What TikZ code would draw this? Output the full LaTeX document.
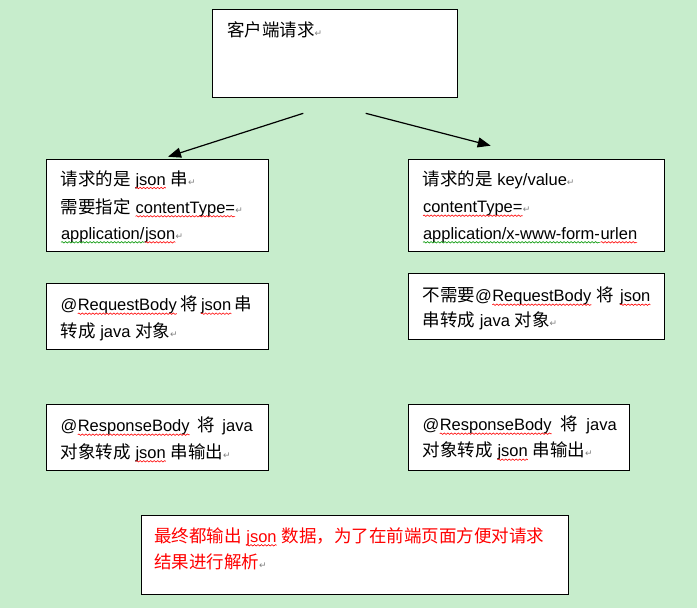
\documentclass[tikz,border=0pt]{standalone}
\usepackage{fontspec}
\setmainfont{Liberation Sans}
\newfontfamily\zhfont{Noto Sans CJK SC}
\newfontfamily\djfont{DejaVu Sans}
\usetikzlibrary{arrows.meta,decorations.pathmorphing}
\definecolor{bg}{RGB}{199,237,204}
\definecolor{wred}{RGB}{255,0,0}
\definecolor{wgreen}{RGB}{0,150,0}
\definecolor{markgray}{RGB}{128,128,128}
\newcommand\zh[1]{{\fontsize{17.5}{21}\selectfont\zhfont #1}}
\newcommand\parmark{{\djfont\fontsize{9}{9}\selectfont\textcolor{markgray}{↵}}}
\newcommand\sq[2]{\tikz[baseline=(w.base)]{\node[inner sep=0pt,outer sep=0pt,anchor=base west](w) at (0,0){#2};\draw[#1,line width=0.6pt,decorate,decoration={snake,amplitude=0.7pt,segment length=3.5pt}] ([yshift=-3pt]w.base west) -- ([yshift=-3pt]w.base east);}}
\begin{document}
\begin{tikzpicture}[x=1pt,y=-1pt,
  box/.style={draw=black,line width=1pt,fill=white,anchor=north west,inner sep=0pt},
  txt/.style={anchor=base west,inner sep=0pt,outer sep=0pt,font=\fontsize{16.5}{21}\selectfont},
  arr/.style={line width=1.2pt,-{Triangle[length=13pt,width=10pt]}}]
\fill[bg] (0,0) rectangle (697,608);
\useasboundingbox (0,0) rectangle (697,608);
% boxes
\node[box,minimum width=244.7pt,minimum height=88pt] (top) at (212.3,9.3) {};
\node[box,minimum width=221.4pt,minimum height=91.7pt] (L1) at (46.3,159.3) {};
\node[box,minimum width=256pt,minimum height=91.7pt] (R1) at (408.3,159.3) {};
\node[box,minimum width=221.4pt,minimum height=66pt] (L2) at (46.3,283.3) {};
\node[box,minimum width=256pt,minimum height=65.7pt] (R2) at (408.3,273.3) {};
\node[box,minimum width=221.4pt,minimum height=66pt] (L3) at (46.3,404.3) {};
\node[box,minimum width=221pt,minimum height=65.7pt] (R3) at (408.3,404.3) {};
\node[box,minimum width=427pt,minimum height=79pt] (B) at (140.7,515) {};
% texts
\node[txt] (t0) at (227,36) {\zh{客户端请求}\parmark};
\node[txt] (l1a) at (60.7,185) {\zh{请求的是} \sq{wred}{json} \zh{串}\parmark};
\node[txt] (l1b) at (60.7,213.3) {\zh{需要指定} \sq{wred}{contentType=}\parmark};
\node[txt] (l1c) at (60.7,239.3) {\sq{wgreen}{application/}\sq{wred}{json}\parmark};
\node[txt] (r1a) at (422.7,185) {\zh{请求的是} key/value\parmark};
\node[txt] (r1b) at (422.7,212.7) {\sq{wred}{contentType=}\parmark};
\node[txt] (r1c) at (422.7,239.3) {\sq{wgreen}{application/x-www-form-}\sq{wred}{urlen}};
\node[txt] (l2a) at (60.7,310.7) {\makebox[191pt][s]{@\sq{wred}{RequestBody} \zh{将} \sq{wred}{json} \zh{串}}};
\node[txt] (l2b) at (60.7,337.7) {\zh{转成} java \zh{对象}\parmark};
\node[txt] (r2a) at (422.7,301.7) {\makebox[228pt][s]{\zh{不需要}@\sq{wred}{RequestBody} \zh{将} \sq{wred}{json}}};
\node[txt] (r2b) at (422.7,326.7) {\zh{串转成} java \zh{对象}\parmark};
\node[txt] (l3a) at (60.7,431.7) {\makebox[192pt][s]{@\sq{wred}{ResponseBody} \zh{将} java}};
\node[txt] (l3b) at (60.7,458.3) {\zh{对象转成} \sq{wred}{json} \zh{串输出}\parmark};
\node[txt] (r3a) at (422.7,430.7) {\makebox[194pt][s]{@\sq{wred}{ResponseBody} \zh{将} java}};
\node[txt] (r3b) at (422.7,456.7) {\zh{对象转成} \sq{wred}{json} \zh{串输出}\parmark};
\node[txt,text=wred] (ba) at (154,542.3) {\zh{最终都输出} \sq{wred}{json} \zh{数据，为了在前端页面方便对请求}};
\node[txt,text=wred] (bb) at (154,568.3) {\zh{结果进行解析}\parmark};
% arrows
\coordinate (a1s) at (303.3,113.3);
\coordinate (a1e) at (168,156.7);
\coordinate (a2s) at (365.7,113.3);
\coordinate (a2e) at (490.7,145.7);
\draw[arr] (a1s) -- (a1e);
\draw[arr] (a2s) -- (a2e);
\end{tikzpicture}
\end{document}
